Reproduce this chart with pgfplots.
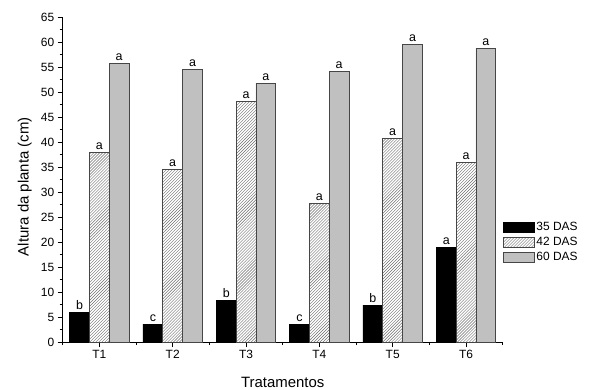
\documentclass[border=0pt]{standalone}
\usepackage{fontspec}
\setmainfont{Liberation Sans}
\usepackage{pgfplots}
\pgfplotsset{compat=1.18}
\usetikzlibrary{patterns}
\definecolor{barGray}{RGB}{192,192,192}
\definecolor{edgeGray}{RGB}{70,70,70}
\definecolor{hatchGray}{RGB}{110,110,110}
\begin{document}
\begin{tikzpicture}
\path[use as bounding box] (0,0) rectangle (589bp,390bp);
\begin{axis}[
  at={(62.7bp,48bp)}, anchor=south west,
  scale only axis, width=440bp, height=325bp,
  xmin=-0.5, xmax=5.5, ymin=0, ymax=65,
  axis lines*=left,
  axis line style={line width=0.8bp, black},
  ybar=0pt,
  ytick={0,5,...,65}, minor y tick num=1,
  xtick={0,...,5}, xticklabels={T1,T2,T3,T4,T5,T6},
  minor xtick={-0.5,0.5,...,5.5},
  tick align=outside, major tick length=5bp, minor tick length=3bp,
  tick style={black, line width=0.8bp},
  /pgf/number format/assume math mode=true,
  tick label style={font=\fontsize{12}{14}\selectfont},
  ylabel={Altura da planta (cm)}, xlabel={Tratamentos},
  label style={font=\fontsize{15}{17}\selectfont},
  xlabel style={at={(axis description cs:0.5,-0.125)}, anchor=center},
  ylabel style={at={(axis description cs:-0.086,0.478)}, anchor=center},
  point meta=explicit symbolic,
  nodes near coords,
  every node near coord/.append style={font=\fontsize{12.5}{14}\selectfont, black, inner sep=2bp},
  legend style={at={(rel axis cs:1.0,0.374)}, anchor=north west, draw=none, fill=none,
    font=\fontsize{12}{14}\selectfont, row sep=1bp, inner sep=0pt},
  legend cell align=left,
  legend image code/.code={\draw[#1, line width=0.6bp] (0bp,-5bp) rectangle (31bp,5bp);},
]
\addplot[bar width=0.27, bar shift=-0.27, fill=black, draw=black, line width=0.8bp]
  coordinates {(0,5.9)[b] (1,3.6)[c] (2,8.4)[b] (3,3.6)[c] (4,7.4)[b] (5,18.9)[a]};
\addlegendentry{35 DAS}
\addplot[bar width=0.27, bar shift=0, pattern=north east lines, pattern color=hatchGray, draw=edgeGray, line width=0.8bp]
  coordinates {(0,38.0)[a] (1,34.6)[a] (2,48.2)[a] (3,27.7)[a] (4,40.7)[a] (5,35.9)[a]};
\addlegendentry{42 DAS}
\addplot[bar width=0.27, bar shift=0.27, fill=barGray, draw=edgeGray, line width=0.8bp]
  coordinates {(0,55.8)[a] (1,54.6)[a] (2,51.8)[a] (3,54.2)[a] (4,59.6)[a] (5,58.7)[a]};
\addlegendentry{60 DAS}
\end{axis}
\end{tikzpicture}
\end{document}
